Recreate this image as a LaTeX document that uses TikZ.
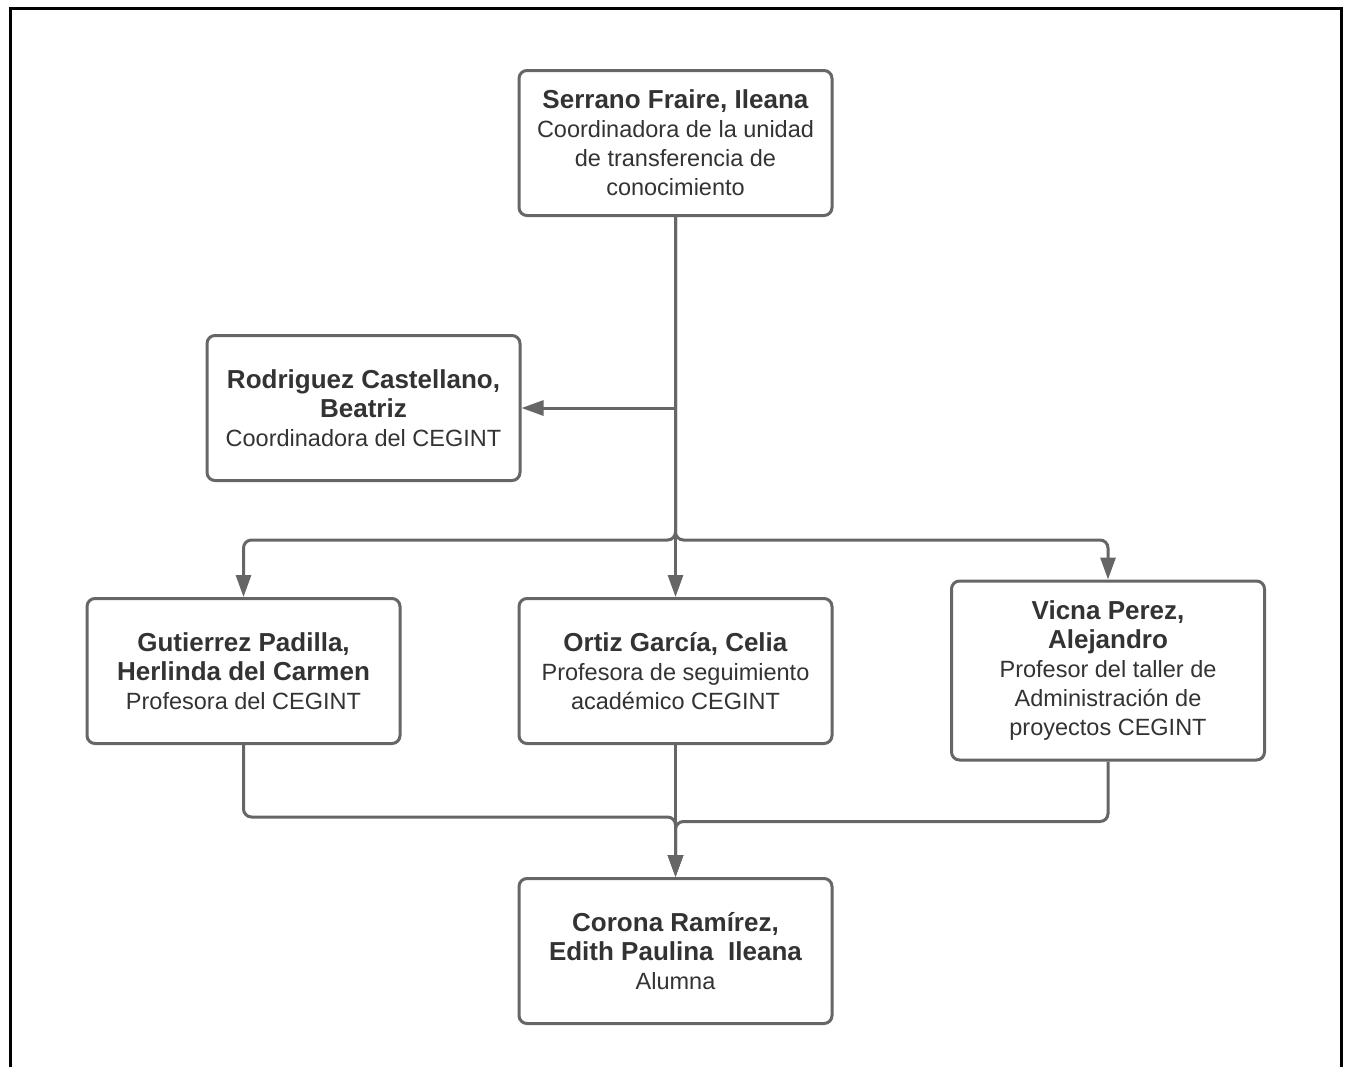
\documentclass[tikz,border=0pt]{standalone}
\usepackage{fontspec}
\setmainfont{Liberation Sans}
\usetikzlibrary{positioning,arrows.meta}
\definecolor{lineagris}{HTML}{666666}
\definecolor{textogris}{HTML}{333333}
\newcommand{\nombre}[1]{\textbf{\fontsize{26}{29}\selectfont #1}}
\tikzset{
	persona/.style={draw=lineagris, line width=3pt, rounded corners=8pt, fill=white,
		minimum width=313pt, minimum height=145pt, align=center, text=textogris,
		font=\fontsize{23.5}{29}\selectfont},
	flecha/.style={draw=lineagris, line width=3pt, rounded corners=8pt,
		-{Triangle[length=22pt,width=15pt]}},
}
\begin{document}
\begin{tikzpicture}[x=1pt,y=-1pt]
	\useasboundingbox (0,0) rectangle (1348,1066);
	\draw[line width=3pt] (10,1070) -- (10,8) -- (1341,8) -- (1341,1070);
	\node[persona] (serrano) at (675.5,143) {\nombre{Serrano Fraire, Ileana}\\Coordinadora de la unidad\\de transferencia de\\conocimiento};
	\node[persona] (rodriguez) at (363.5,408) {\nombre{Rodriguez Castellano,}\\\nombre{Beatriz}\\Coordinadora del CEGINT};
	\node[persona] (gutierrez) at (243.5,671) {\nombre{Gutierrez Padilla,}\\\nombre{Herlinda del Carmen}\\Profesora del CEGINT};
	\node[persona] (ortiz) at (675.5,671) {\nombre{Ortiz García, Celia}\\Profesora de seguimiento\\académico CEGINT};
	\node[persona, minimum height=179pt] (vicna) at (1108,670.5) {\nombre{Vicna Perez,}\\\nombre{Alejandro}\\Profesor del taller de\\Administración de\\proyectos CEGINT};
	\node[persona] (corona) at (675.5,951) {\nombre{Corona Ramírez,}\\\nombre{Edith Paulina\ \ Ileana}\\Alumna};
	\coordinate (reparto) at (675.5,540);
	% conexiones
	\draw[flecha] (serrano.south |- rodriguez.east) -- (rodriguez.east);
	\draw[flecha] (serrano.south) -- (reparto) -| (gutierrez.north);
	\draw[flecha] (serrano.south) -- (reparto) -| (vicna.north);
	\draw[flecha] (serrano.south) -- (ortiz.north);
	\draw[flecha] (gutierrez.south) -- ++(0,72) -| (corona.north);
	\draw[flecha] (vicna.south) -- ++(0,60) -| (corona.north);
	\draw[flecha] (ortiz.south) -- (corona.north);
\end{tikzpicture}
\end{document}
